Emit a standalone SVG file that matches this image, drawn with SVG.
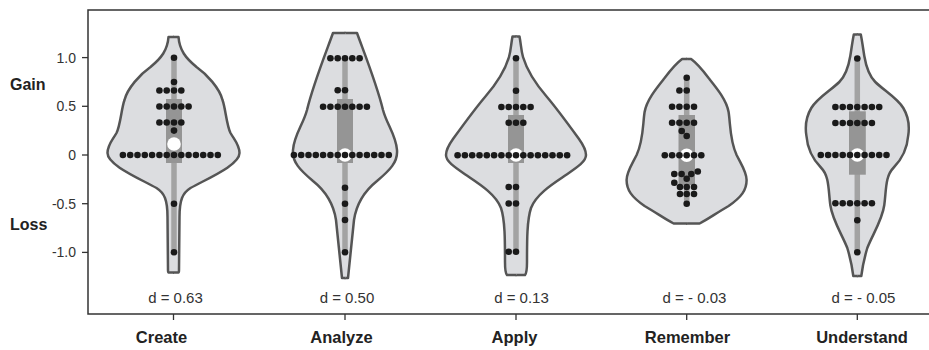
<svg xmlns="http://www.w3.org/2000/svg" xmlns:xlink="http://www.w3.org/1999/xlink" width="929" height="350" viewBox="0 0 929 350">
<style>
.bg{fill:#ffffff}
.frame{fill:none;stroke:#333333;stroke-width:1.5}
.tick{stroke:#333333;stroke-width:1.3}
.violin{fill:#dcdde0;stroke:#555555;stroke-width:2.5;stroke-linejoin:round}
.whisk{stroke:#a3a3a3;stroke-width:5.5}
.box{fill:#959595}
.med{fill:#ffffff}
.dot{fill:#1a1a1a}
.ytl{font-family:"Liberation Sans",Arial,sans-serif;font-size:14px;fill:#333333;text-anchor:end}
.yl{font-family:"Liberation Sans",Arial,sans-serif;font-size:16px;font-weight:bold;fill:#222222}
.dl{font-family:"Liberation Sans",Arial,sans-serif;font-size:15px;fill:#333333;text-anchor:middle}
.xl{font-family:"Liberation Sans",Arial,sans-serif;font-size:16.5px;font-weight:bold;fill:#222222;text-anchor:middle}
</style>
<defs>
<path id="vCreate" d="M -0.5 37 H 5 C 6 50, 12 58, 23 67 C 33 74, 46 88, 49 100 C 52 108, 53 125, 57 133 C 61 140, 66 145, 66 153 C 66 165, 35 178, 17 188 C 9 193, 6 200, 6 217 L 5.5 270 Q 5.5 272.5 5 272.5 H -0.5"/>
<path id="vAnalyze" d="M -0.5 33 H 12 C 20 55, 32 85, 38 110 C 42 125, 51 135, 52 150 C 53 162, 45 170, 32 181 C 22 189, 12 200, 9 220 C 7 240, 5 260, 3 278 H -0.5"/>
<path id="vApply" d="M -0.5 36.5 H 3.5 C 5 44, 5 50, 7 57 C 10 67, 18 82, 31 97 C 42 110, 55 128, 63 139 C 68 146, 70 150, 70 155 C 70 162, 60 168, 47 177 C 35 185, 20 195, 15 208 C 11 220, 11 240, 11 262 C 11 270, 10 274, 9 275 H -0.5"/>
<path id="vRemember" d="M -0.5 59 H 4.5 C 10 63, 16 70, 22 78 C 30 88, 40 100, 42 112 C 44 125, 43 140, 50 155 C 55 165, 60 172, 60 180 C 60 190, 55 197, 42 206 C 30 213, 20 220, 13 223.5 H -0.5"/>
<path id="vUnderstand" d="M -0.5 34.5 H 3.5 C 5 42, 6 50, 7 56 C 9 68, 12 76, 18 82 C 26 90, 40 98, 46 108 C 52 118, 52 128, 51 135 C 50 148, 44 160, 36 168 C 28 176, 29 190, 27 205 C 25 220, 15 235, 10 248 C 7 258, 5 268, 4 276 H -0.5"/>
</defs>
<rect class="bg" x="0" y="0" width="929" height="350"/>

<g id="axes">
<path class="frame" d="M 930 10 H 88 V 314 H 930"/>
<g class="tick">
<line x1="82" y1="57.6" x2="88" y2="57.6"/>
<line x1="82" y1="106.3" x2="88" y2="106.3"/>
<line x1="82" y1="155" x2="88" y2="155"/>
<line x1="82" y1="203.7" x2="88" y2="203.7"/>
<line x1="82" y1="252.4" x2="88" y2="252.4"/>
<line x1="173.5" y1="314" x2="173.5" y2="320"/>
<line x1="345" y1="314" x2="345" y2="320"/>
<line x1="516" y1="314" x2="516" y2="320"/>
<line x1="686.7" y1="314" x2="686.7" y2="320"/>
<line x1="857.3" y1="314" x2="857.3" y2="320"/>
</g>
<text class="ytl" x="76" y="62.6">1.0</text>
<text class="ytl" x="76" y="111.3">0.5</text>
<text class="ytl" x="76" y="160">0</text>
<text class="ytl" x="76" y="208.7">-0.5</text>
<text class="ytl" x="76" y="257.4">-1.0</text>
<text class="yl" x="10" y="90">Gain</text>
<text class="yl" x="10" y="230">Loss</text>
</g>

<g id="create">
<use href="#vCreate" class="violin" transform="translate(173.5 0)"/>
<use href="#vCreate" class="violin" transform="translate(173.5 0) scale(-1 1)"/>
<line class="whisk" x1="174" y1="58" x2="174" y2="252.4"/>
<rect class="box" x="166" y="99" width="16" height="64"/>
<circle class="med" cx="174" cy="144" r="6.8"/>
<g class="dot">
<circle cx="174" cy="57.8" r="3.3"/>
<circle cx="174" cy="82" r="3.3"/>
<circle cx="159.4" cy="90.5" r="3.3"/><circle cx="166.7" cy="90.5" r="3.3"/><circle cx="174" cy="90.5" r="3.3"/><circle cx="181.3" cy="90.5" r="3.3"/>
<circle cx="159.4" cy="106.5" r="3.3"/><circle cx="166.7" cy="106.5" r="3.3"/><circle cx="174" cy="106.5" r="3.3"/><circle cx="181.3" cy="106.5" r="3.3"/><circle cx="188.6" cy="106.5" r="3.3"/>
<circle cx="159.4" cy="122.5" r="3.3"/><circle cx="166.7" cy="122.5" r="3.3"/><circle cx="174" cy="122.5" r="3.3"/><circle cx="181.3" cy="122.5" r="3.3"/>
<circle cx="174" cy="130.6" r="3.3"/>
<circle cx="122.9" cy="155" r="3.3"/><circle cx="130.2" cy="155" r="3.3"/><circle cx="137.5" cy="155" r="3.3"/><circle cx="144.8" cy="155" r="3.3"/><circle cx="152.1" cy="155" r="3.3"/><circle cx="159.4" cy="155" r="3.3"/><circle cx="166.7" cy="155" r="3.3"/><circle cx="174" cy="155" r="3.3"/><circle cx="181.3" cy="155" r="3.3"/><circle cx="188.6" cy="155" r="3.3"/><circle cx="195.9" cy="155" r="3.3"/><circle cx="203.2" cy="155" r="3.3"/><circle cx="210.5" cy="155" r="3.3"/><circle cx="217.8" cy="155" r="3.3"/>
<circle cx="174" cy="203.7" r="3.3"/>
<circle cx="174" cy="252.2" r="3.3"/>
</g>
<text class="dl" x="175.5" y="303">d = 0.63</text>
<text class="xl" x="161.5" y="343">Create</text>
</g>

<g id="analyze">
<use href="#vAnalyze" class="violin" transform="translate(345 0)"/>
<use href="#vAnalyze" class="violin" transform="translate(345 0) scale(-1 1)"/>
<line class="whisk" x1="345" y1="58" x2="345" y2="252.4"/>
<rect class="box" x="337" y="99" width="16" height="64"/>
<circle class="med" cx="345" cy="155" r="6.8"/>
<g class="dot">
<circle cx="330.4" cy="58.2" r="3.3"/><circle cx="337.7" cy="58.2" r="3.3"/><circle cx="345" cy="58.2" r="3.3"/><circle cx="352.3" cy="58.2" r="3.3"/><circle cx="359.6" cy="58.2" r="3.3"/>
<circle cx="337.7" cy="90.3" r="3.3"/><circle cx="345" cy="90.3" r="3.3"/>
<circle cx="323.1" cy="106.7" r="3.3"/><circle cx="330.4" cy="106.7" r="3.3"/><circle cx="337.7" cy="106.7" r="3.3"/><circle cx="345" cy="106.7" r="3.3"/><circle cx="352.3" cy="106.7" r="3.3"/><circle cx="359.6" cy="106.7" r="3.3"/><circle cx="366.9" cy="106.7" r="3.3"/>
<circle cx="293.9" cy="155" r="3.3"/><circle cx="301.2" cy="155" r="3.3"/><circle cx="308.5" cy="155" r="3.3"/><circle cx="315.8" cy="155" r="3.3"/><circle cx="323.1" cy="155" r="3.3"/><circle cx="330.4" cy="155" r="3.3"/><circle cx="337.7" cy="155" r="3.3"/><circle cx="345" cy="155" r="3.3"/><circle cx="352.3" cy="155" r="3.3"/><circle cx="359.6" cy="155" r="3.3"/><circle cx="366.9" cy="155" r="3.3"/><circle cx="374.2" cy="155" r="3.3"/><circle cx="381.5" cy="155" r="3.3"/><circle cx="388.8" cy="155" r="3.3"/>
<circle cx="345" cy="187.8" r="3.3"/>
<circle cx="345" cy="203.7" r="3.3"/>
<circle cx="345" cy="220" r="3.3"/>
<circle cx="345" cy="252.3" r="3.3"/>
</g>
<text class="dl" x="347" y="303">d = 0.50</text>
<text class="xl" x="341.5" y="343">Analyze</text>
</g>

<g id="apply">
<use href="#vApply" class="violin" transform="translate(516 0)"/>
<use href="#vApply" class="violin" transform="translate(516 0) scale(-1 1)"/>
<line class="whisk" x1="516" y1="58" x2="516" y2="252.4"/>
<rect class="box" x="508" y="115" width="16" height="48"/>
<circle class="med" cx="516" cy="155" r="6.8"/>
<g class="dot">
<circle cx="516" cy="58.3" r="3.3"/>
<circle cx="516" cy="90.7" r="3.3"/>
<circle cx="501.4" cy="107" r="3.3"/><circle cx="508.7" cy="107" r="3.3"/><circle cx="516" cy="107" r="3.3"/><circle cx="523.3" cy="107" r="3.3"/><circle cx="530.6" cy="107" r="3.3"/>
<circle cx="508.7" cy="122.7" r="3.3"/><circle cx="516" cy="122.7" r="3.3"/><circle cx="523.3" cy="122.7" r="3.3"/>
<circle cx="457.6" cy="155.3" r="3.3"/><circle cx="464.9" cy="155.3" r="3.3"/><circle cx="472.2" cy="155.3" r="3.3"/><circle cx="479.5" cy="155.3" r="3.3"/><circle cx="486.8" cy="155.3" r="3.3"/><circle cx="494.1" cy="155.3" r="3.3"/><circle cx="501.4" cy="155.3" r="3.3"/><circle cx="508.7" cy="155.3" r="3.3"/><circle cx="516" cy="155.3" r="3.3"/><circle cx="523.3" cy="155.3" r="3.3"/><circle cx="530.6" cy="155.3" r="3.3"/><circle cx="537.9" cy="155.3" r="3.3"/><circle cx="545.2" cy="155.3" r="3.3"/><circle cx="552.5" cy="155.3" r="3.3"/><circle cx="559.8" cy="155.3" r="3.3"/><circle cx="567.1" cy="155.3" r="3.3"/>
<circle cx="508.7" cy="187" r="3.3"/><circle cx="516" cy="187" r="3.3"/>
<circle cx="508.7" cy="203.5" r="3.3"/><circle cx="516" cy="203.5" r="3.3"/>
<circle cx="508.7" cy="251.8" r="3.3"/><circle cx="516" cy="251.8" r="3.3"/>
</g>
<text class="dl" x="521.5" y="303">d = 0.13</text>
<text class="xl" x="514.5" y="343">Apply</text>
</g>

<g id="remember">
<use href="#vRemember" class="violin" transform="translate(686.6 0)"/>
<use href="#vRemember" class="violin" transform="translate(686.6 0) scale(-1 1)"/>
<line class="whisk" x1="686.7" y1="77.5" x2="686.7" y2="203.5"/>
<rect class="box" x="678.5" y="115" width="16.5" height="70"/>
<circle class="med" cx="686.7" cy="155.3" r="6.8"/>
<g class="dot">
<circle cx="686.7" cy="77.7" r="3.3"/>
<circle cx="679.4" cy="90.5" r="3.3"/><circle cx="686.7" cy="90.5" r="3.3"/>
<circle cx="672.1" cy="106.8" r="3.3"/><circle cx="679.4" cy="106.8" r="3.3"/><circle cx="686.7" cy="106.8" r="3.3"/><circle cx="694" cy="106.8" r="3.3"/>
<circle cx="672.1" cy="122.7" r="3.3"/><circle cx="679.4" cy="122.7" r="3.3"/><circle cx="686.7" cy="122.7" r="3.3"/><circle cx="694" cy="122.7" r="3.3"/>
<circle cx="681.7" cy="131" r="3.3"/>
<circle cx="686.7" cy="136" r="3.3"/>
<circle cx="664.8" cy="155.3" r="3.3"/><circle cx="672.1" cy="155.3" r="3.3"/><circle cx="679.4" cy="155.3" r="3.3"/><circle cx="686.7" cy="155.3" r="3.3"/><circle cx="694" cy="155.3" r="3.3"/><circle cx="701.3" cy="155.3" r="3.3"/>
<circle cx="674.3" cy="174" r="3.3"/><circle cx="681.6" cy="174" r="3.3"/><circle cx="691.3" cy="174" r="3.3"/><circle cx="697.8" cy="171.5" r="3.3"/>
<circle cx="686.7" cy="178.8" r="3.3"/>
<circle cx="674.3" cy="182.7" r="3.3"/>
<circle cx="680" cy="187" r="3.3"/><circle cx="686.7" cy="187" r="3.3"/><circle cx="694" cy="187" r="3.3"/>
<circle cx="680" cy="194" r="3.3"/><circle cx="686.7" cy="194" r="3.3"/><circle cx="694" cy="194" r="3.3"/>
<circle cx="686.7" cy="203.7" r="3.3"/>
</g>
<text class="dl" x="694.5" y="303">d = - 0.03</text>
<text class="xl" x="687.5" y="343">Remember</text>
</g>

<g id="understand">
<use href="#vUnderstand" class="violin" transform="translate(857.3 0)"/>
<use href="#vUnderstand" class="violin" transform="translate(857.3 0) scale(-1 1)"/>
<line class="whisk" x1="857.3" y1="58" x2="857.3" y2="252.4"/>
<rect class="box" x="849" y="111.3" width="16.8" height="63.4"/>
<circle class="med" cx="857.3" cy="155" r="6.8"/>
<g class="dot">
<circle cx="857.3" cy="58.5" r="3.3"/>
<circle cx="835.4" cy="107" r="3.3"/><circle cx="842.7" cy="107" r="3.3"/><circle cx="850" cy="107" r="3.3"/><circle cx="857.3" cy="107" r="3.3"/><circle cx="864.6" cy="107" r="3.3"/><circle cx="871.9" cy="107" r="3.3"/><circle cx="879.2" cy="107" r="3.3"/>
<circle cx="835.4" cy="123" r="3.3"/><circle cx="842.7" cy="123" r="3.3"/><circle cx="850" cy="123" r="3.3"/><circle cx="857.3" cy="123" r="3.3"/><circle cx="864.6" cy="123" r="3.3"/><circle cx="871.9" cy="123" r="3.3"/>
<circle cx="820.8" cy="155" r="3.3"/><circle cx="828.1" cy="155" r="3.3"/><circle cx="835.4" cy="155" r="3.3"/><circle cx="842.7" cy="155" r="3.3"/><circle cx="850" cy="155" r="3.3"/><circle cx="857.3" cy="155" r="3.3"/><circle cx="864.6" cy="155" r="3.3"/><circle cx="871.9" cy="155" r="3.3"/><circle cx="879.2" cy="155" r="3.3"/><circle cx="886.5" cy="155" r="3.3"/>
<circle cx="835.4" cy="203.3" r="3.3"/><circle cx="842.7" cy="203.3" r="3.3"/><circle cx="850" cy="203.3" r="3.3"/><circle cx="857.3" cy="203.3" r="3.3"/><circle cx="864.6" cy="203.3" r="3.3"/><circle cx="871.9" cy="203.3" r="3.3"/>
<circle cx="857.3" cy="220.3" r="3.3"/>
<circle cx="857.3" cy="252.3" r="3.3"/>
</g>
<text class="dl" x="863.5" y="303">d = - 0.05</text>
<text class="xl" x="862" y="343">Understand</text>
</g>
</svg>
